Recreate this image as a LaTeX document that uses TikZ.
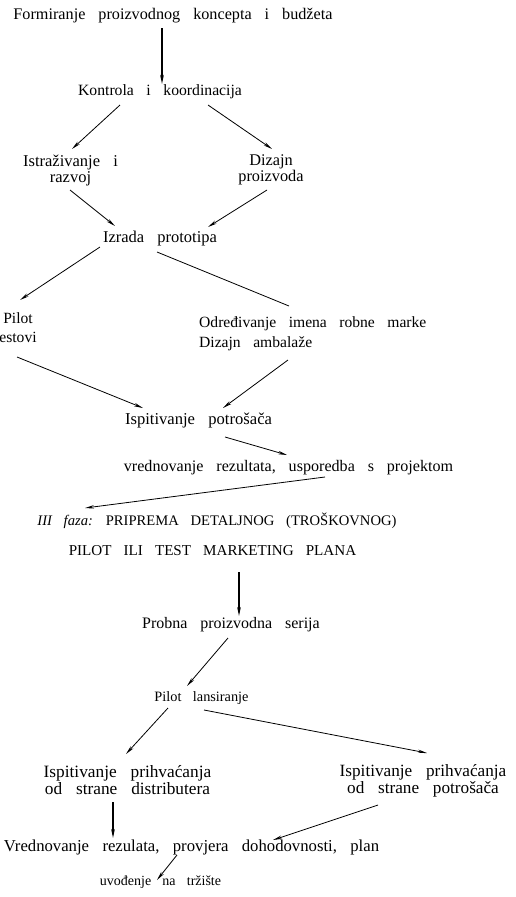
\documentclass[tikz,border=0pt]{standalone}
\usepackage{fontspec}
\setmainfont{Liberation Serif}[WordSpace=3.2]
\usetikzlibrary{arrows.meta}
\begin{document}
\begin{tikzpicture}[x=1pt,y=-1pt,
  lbl/.style={inner sep=0pt, font=\fontsize{16}{16.5}\selectfont},
  sz/.style={font=\fontsize{#1}{16.5}\selectfont},
  arr/.style={line width=0.8pt, -{Stealth[length=9pt,width=3.4pt]}},
  varr/.style={line width=1.2pt, -{Stealth[length=9pt,width=3.6pt]}},
  plain/.style={line width=0.8pt}]
\useasboundingbox (0,0) rectangle (515,897);

% nodes
\node[lbl,sz=16.2,anchor=base] (title) at (173,19) {Formiranje proizvodnog koncepta i budžeta};
\node[lbl,sz=15.7,anchor=base] (kontrola) at (160,95) {Kontrola i koordinacija};
\node[lbl,sz=16.5,align=center] (istr) at (70.5,170.5) {Istraživanje i\\razvoj};
\node[lbl,sz=16.3,align=center] (dizp) at (271,170) {Dizajn\\proizvoda};
\node[lbl,sz=16.5,anchor=base] (izrada) at (160,242) {Izrada prototipa};
\node[lbl,align=center,font=\fontsize{15.6}{19}\selectfont] (pilot) at (18,327.5) {Pilot\\estovi};
\node[lbl,align=left,anchor=west,font=\fontsize{15.6}{20}\selectfont] (odred) at (199,333.3) {Određivanje imena robne marke\\Dizajn ambalaže};
\node[lbl,sz=16.6,anchor=base] (ispot) at (198.5,424) {Ispitivanje potrošača};
\node[lbl,sz=16.1,anchor=base] (vred) at (288.5,471) {vrednovanje rezultata, usporedba s projektom};
\node[lbl,sz=14.6,anchor=base] (faza) at (217,525) {\textit{III faza:} PRIPREMA DETALJNOG (TROŠKOVNOG)};
\node[lbl,sz=15.1,anchor=base] (plan) at (212.5,555) {PILOT ILI TEST MARKETING PLANA};
\node[lbl,sz=16,anchor=base] (probna) at (231,628) {Probna proizvodna serija};
\node[lbl,sz=14.3,anchor=base] (lans) at (201.5,701) {Pilot lansiranje};
\node[lbl,sz=17.3,align=center] (ispdist) at (127.5,780) {Ispitivanje prihvaćanja\\od strane distributera};
\node[lbl,sz=17.2,align=center] (isppot) at (423,781) {Ispitivanje prihvaćanja\\od strane potrošača};
\node[lbl,sz=16.7,anchor=base] (vrez) at (191.5,851) {Vrednovanje rezulata, provjera dohodovnosti, plan};
\node[lbl,sz=14,anchor=base] (uvod) at (160.5,885) {uvođenje na tržište};

% connector end points
\coordinate (title-o) at (162,28);   \coordinate (kontrola-i) at (162,84);
\coordinate (kontrola-o1) at (120,105); \coordinate (istr-i) at (72,149);
\coordinate (kontrola-o2) at (208,105); \coordinate (dizp-i) at (272,149);
\coordinate (istr-o) at (70,190);    \coordinate (izrada-i1) at (115,226);
\coordinate (dizp-o) at (267,190);   \coordinate (izrada-i2) at (208,227);
\coordinate (izrada-o1) at (100,247); \coordinate (pilot-i) at (20,300);
\coordinate (izrada-o2) at (157,252); \coordinate (odred-i) at (289,306);
\coordinate (pilot-o) at (17,357);   \coordinate (ispot-i1) at (143,408);
\coordinate (odred-o) at (288,360);  \coordinate (ispot-i2) at (223,408);
\coordinate (ispot-o) at (225,437);  \coordinate (vred-i) at (287,455);
\coordinate (vred-o) at (325,477);   \coordinate (faza-i) at (85,508);
\coordinate (plan-o) at (239,572);   \coordinate (probna-i) at (239,616);
\coordinate (probna-o) at (228,638); \coordinate (lans-i) at (187,686);
\coordinate (lans-o1) at (168,708);  \coordinate (ispdist-i) at (126,754);
\coordinate (lans-o2) at (204,710);  \coordinate (isppot-i) at (427,753);
\coordinate (ispdist-o) at (113,802); \coordinate (vrez-i1) at (113,838);
\coordinate (isppot-o) at (378,805); \coordinate (vrez-i2) at (273,840);
\coordinate (vrez-o) at (177,855);   \coordinate (uvod-i) at (157,880);

% connectors
\draw[varr,line width=1.5pt] (title-o) -- (kontrola-i);
\draw[arr] (kontrola-o1) -- (istr-i);
\draw[arr] (kontrola-o2) -- (dizp-i);
\draw[arr] (istr-o) -- (izrada-i1);
\draw[arr] (dizp-o) -- (izrada-i2);
\draw[arr] (izrada-o1) -- (pilot-i);
\draw[plain] (izrada-o2) -- (odred-i);
\draw[arr] (pilot-o) -- (ispot-i1);
\draw[arr] (odred-o) -- (ispot-i2);
\draw[arr] (ispot-o) -- (vred-i);
\draw[arr] (vred-o) -- (faza-i);
\draw[varr] (plan-o) -- (probna-i);
\draw[arr] (probna-o) -- (lans-i);
\draw[arr] (lans-o1) -- (ispdist-i);
\draw[arr] (lans-o2) -- (isppot-i);
\draw[varr] (ispdist-o) -- (vrez-i1);
\draw[arr] (isppot-o) -- (vrez-i2);
\draw[arr] (vrez-o) -- (uvod-i);
\end{tikzpicture}
\end{document}
